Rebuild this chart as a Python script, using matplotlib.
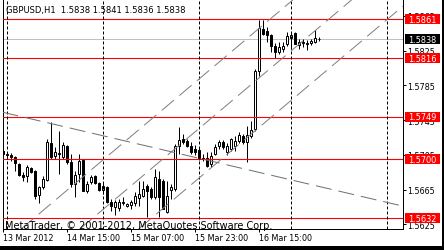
import matplotlib
matplotlib.use('Agg')
import matplotlib.pyplot as plt
import matplotlib.transforms as mtransforms
from matplotlib.patches import Rectangle

# Canvas size in pixels and one pixel expressed in points (dpi 100)
W, H = 444, 251
PX = 0.72

symbol = 'GBPUSD,H1'

# Hourly candles, oldest first (bar index 0 = 13 Mar 2012)
opens = [1.5710, 1.5706, 1.5705, 1.5703, 1.5694, 1.5682, 1.5681, 1.5690, 1.5686, 1.5659,
         1.5668, 1.5676, 1.5719, 1.5704, 1.5707, 1.5703, 1.5715, 1.5697, 1.5671, 1.5683,
         1.5699, 1.5664, 1.5674, 1.5681, 1.5673, 1.5665, 1.5668, 1.5651, 1.5645, 1.5644,
         1.5651, 1.5646, 1.5647, 1.5650, 1.5655, 1.5658, 1.5669, 1.5666, 1.5657, 1.5677,
         1.5675, 1.5639, 1.5665, 1.5666, 1.5715, 1.5723, 1.5721, 1.5715, 1.5712, 1.5711,
         1.5700, 1.5701, 1.5694, 1.5706, 1.5715, 1.5720, 1.5708, 1.5712, 1.5715, 1.5721,
         1.5727, 1.5720, 1.5727, 1.5735, 1.5801, 1.5850, 1.5848, 1.5843, 1.5830, 1.5823,
         1.5827, 1.5833, 1.5840, 1.5845, 1.5831, 1.5834, 1.5833, 1.5834, 1.5835, 1.5838]
highs = [1.5712, 1.5708, 1.5707, 1.5704, 1.5696, 1.5685, 1.5693, 1.5691, 1.5688, 1.5669,
         1.5681, 1.5723, 1.5743, 1.5714, 1.5733, 1.5720, 1.5716, 1.5706, 1.5686, 1.5706,
         1.5700, 1.5675, 1.5682, 1.5682, 1.5674, 1.5674, 1.5669, 1.5654, 1.5653, 1.5654,
         1.5657, 1.5650, 1.5653, 1.5662, 1.5675, 1.5675, 1.5672, 1.5668, 1.5689, 1.5686,
         1.5677, 1.5675, 1.5672, 1.5718, 1.5737, 1.5729, 1.5723, 1.5720, 1.5716, 1.5714,
         1.5706, 1.5708, 1.5708, 1.5718, 1.5722, 1.5722, 1.5719, 1.5725, 1.5727, 1.5731,
         1.5729, 1.5738, 1.5744, 1.5804, 1.5860, 1.5860, 1.5852, 1.5844, 1.5834, 1.5835,
         1.5835, 1.5846, 1.5846, 1.5846, 1.5838, 1.5838, 1.5837, 1.5838, 1.5849, 1.5841]
lows = [1.5703, 1.5703, 1.5698, 1.5686, 1.5681, 1.5675, 1.5674, 1.5684, 1.5654, 1.5650,
        1.5666, 1.5675, 1.5700, 1.5700, 1.5683, 1.5700, 1.5694, 1.5668, 1.5657, 1.5674,
        1.5663, 1.5661, 1.5672, 1.5672, 1.5664, 1.5660, 1.5650, 1.5640, 1.5636, 1.5640,
        1.5647, 1.5645, 1.5643, 1.5646, 1.5646, 1.5656, 1.5633, 1.5654, 1.5654, 1.5634,
        1.5643, 1.5638, 1.5654, 1.5664, 1.5706, 1.5718, 1.5714, 1.5706, 1.5705, 1.5699,
        1.5698, 1.5691, 1.5691, 1.5705, 1.5712, 1.5712, 1.5705, 1.5710, 1.5710, 1.5719,
        1.5718, 1.5697, 1.5725, 1.5733, 1.5796, 1.5843, 1.5835, 1.5823, 1.5816, 1.5821,
        1.5823, 1.5830, 1.5827, 1.5833, 1.5827, 1.5829, 1.5826, 1.5831, 1.5834, 1.5836]
closes = [1.5706, 1.5705, 1.5703, 1.5696, 1.5682, 1.5679, 1.5691, 1.5685, 1.5658, 1.5668,
          1.5677, 1.5720, 1.5703, 1.5708, 1.5706, 1.5716, 1.5697, 1.5671, 1.5682, 1.5698,
          1.5664, 1.5672, 1.5679, 1.5673, 1.5665, 1.5669, 1.5651, 1.5646, 1.5651, 1.5651,
          1.5650, 1.5649, 1.5651, 1.5658, 1.5660, 1.5666, 1.5663, 1.5656, 1.5680, 1.5657,
          1.5643, 1.5658, 1.5668, 1.5715, 1.5722, 1.5720, 1.5715, 1.5708, 1.5708, 1.5701,
          1.5701, 1.5692, 1.5704, 1.5714, 1.5720, 1.5714, 1.5715, 1.5723, 1.5721, 1.5728,
          1.5720, 1.5728, 1.5734, 1.5801, 1.5851, 1.5844, 1.5843, 1.5830, 1.5823, 1.5829,
          1.5830, 1.5842, 1.5843, 1.5833, 1.5835, 1.5835, 1.5834, 1.5836, 1.5840, 1.5838]

time_ticks = [0, 16, 32, 48, 64]
time_labels = ['13 Mar 2012', '14 Mar 15:00', '15 Mar 07:00', '15 Mar 23:00', '16 Mar 15:00']
separators = [1, 25, 49, 72, 96]  # day separators (bar index)

levels = [1.5861, 1.5816, 1.5749, 1.5700, 1.5632]  # red horizontal lines
price_ticks = [1.5625, 1.5665, 1.5705, 1.5745, 1.5785, 1.5825, 1.5865]

# trend lines given as two anchor points (bar, price)
channel_lines = [((10, 1.5641), (60, 1.5835)),
                 ((10, 1.5584), (60, 1.5778)),
                 ((10, 1.5527), (60, 1.5721))]
falling_line = ((0, 1.5754), (100, 1.5646))

y_min, y_max = 1.56197, 1.58844
bid = closes[-1]

plt.rcParams['font.family'] = 'DejaVu Sans'
plt.rcParams['lines.scale_dashes'] = False

fig = plt.figure(figsize=(W / 100, H / 100), dpi=100)
fig.patch.set_facecolor('white')
ax = fig.add_axes([2.5 / W, 1 - 230 / H, 400.5 / W, 230 / H])
ax.set_xlim(-0.125, 100)
ax.set_ylim(y_min, y_max)

# candles
for i, (o, h, l, c) in enumerate(zip(opens, highs, lows, closes)):
    ax.vlines(i, l, h, color='black', lw=PX, zorder=3)
    body = Rectangle((i - 0.25, min(o, c)), 0.5, abs(c - o),
                     facecolor='white' if c >= o else 'black',
                     edgecolor='black', lw=PX, zorder=4)
    ax.add_patch(body)

# objects
ax.axhline(bid, color='#c0c0c0', lw=PX, zorder=2)
for lvl in levels:
    ax.axhline(lvl, color='red', lw=PX * 1.1, zorder=5)
for s in separators:
    ax.axvline(s, color='black', lw=PX, linestyle=(0, (3 * PX, 2 * PX)), zorder=5)
dash = (0, (16 * PX, 7 * PX))
for p1, p2 in channel_lines:
    ax.axline(p1, p2, color='#808080', lw=PX, linestyle=dash, zorder=5)
ax.axline(falling_line[0], falling_line[1], color='#707070', lw=PX, linestyle=dash, zorder=5)

# axes styling
for side in ['left', 'right', 'bottom']:
    ax.spines[side].set_linewidth(PX)
ax.spines['top'].set_visible(False)
ax.yaxis.tick_right()
ax.set_yticks(price_ticks, [f'{v:.4f}' for v in price_ticks])
ax.set_xticks(time_ticks, time_labels, ha='left')
ax.tick_params(axis='both', direction='out', length=3 * PX, width=PX,
               pad=1.5 * PX, labelsize=5.75, colors='black')

# price tags on the right edge
blend = mtransforms.blended_transform_factory(fig.transFigure, ax.transData)
px_price = (y_max - y_min) / 230
tags = [(lvl, 'red') for lvl in levels] + [(bid, 'black')]
for lvl, col in tags:
    ax.add_patch(Rectangle((405 / W, lvl - 5 * px_price), 35 / W, 10 * px_price,
                           transform=blend, facecolor=col, edgecolor='none',
                           clip_on=False, zorder=6))
    ax.text(408.5 / W, lvl, f'{lvl:.4f}', transform=blend, color='white',
            fontsize=5.9, va='center', ha='left', clip_on=False, zorder=7)

header = f'{symbol}  {opens[-1]:.4f} {highs[-1]:.4f} {lows[-1]:.4f} {closes[-1]:.4f}'
fig.text(6 / W, 1 - 10.5 / H, header, fontsize=6.0, va='center', ha='left')
fig.text(5 / W, 1 - 229 / H, 'MetaTrader, \u00a9 2001-2012, MetaQuotes Software Corp.',
         fontsize=7.0, va='baseline', ha='left')

# window frame remnants
fig.patches.append(Rectangle((441.5 / W, 0), 3 / W, 1, transform=fig.transFigure,
                             facecolor='black', edgecolor='none'))
fig.patches.append(Rectangle((0, 0), 1, 4.3 / H, transform=fig.transFigure,
                             facecolor='black', edgecolor='none'))

fig.savefig('out.png', dpi=100)
